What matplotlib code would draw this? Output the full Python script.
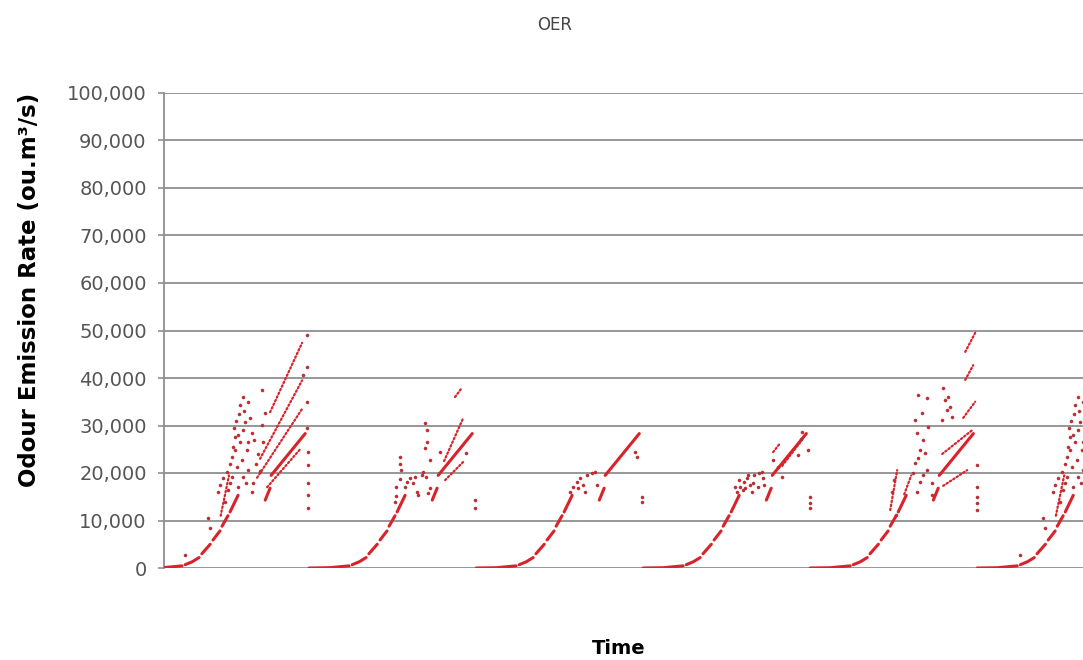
import matplotlib
matplotlib.use('Agg')
import matplotlib.pyplot as plt
from matplotlib.ticker import FuncFormatter, MultipleLocator

# time in hours, emission rate in thousands of ou.m3/s
day_starts = [0, 24, 48, 72, 96, 120]
day_pattern = ['early', 'medium', 'light', 'lightplus', 'late', 'early']

# diurnal base curve shared by every day, one list per logged stretch
base_dashes = [
    [(0.0, 0.0), (2.9, 0.06), (5.75, 0.45)],
    [(6.2, 0.7), (7.2, 1.3), (8.2, 2.2)],
    [(8.6, 3.0), (9.8, 5.0)],
    [(10.2, 5.9), (11.2, 7.8)],
    [(11.5, 8.8), (12.35, 11.0)],
    [(12.65, 11.8), (13.8, 15.3)],
    [(17.7, 14.3), (18.4, 16.8)],
    [(18.55, 19.5), (23.45, 28.3)],
]

early_runs = [
    [(11.3, 11.0), (12.5, 19.5)],
    [(18.4, 32.8), (23.0, 47.4)],
    [(16.96, 23.0), (23.0, 39.5)],
    [(16.53, 19.0), (23.0, 33.5)],
    [(17.97, 17.0), (22.71, 25.0)],
]
early_dots = [
    (6.18, 2.7), (9.49, 10.5), (9.77, 8.4), (10.92, 16.0), (11.21, 17.5), (11.64, 19.0),
    (12.22, 20.2), (12.65, 22.0), (12.93, 23.4), (13.37, 24.8), (13.37, 27.6), (13.80, 28.0),
    (14.08, 26.5), (14.52, 29.0), (14.80, 30.7), (14.08, 34.3), (14.52, 36.0), (15.23, 35.0),
    (12.93, 19.2), (13.65, 21.3), (14.37, 22.7), (15.09, 24.8), (15.23, 26.5), (15.81, 28.4),
    (14.52, 19.2), (15.23, 20.6), (15.95, 17.9), (15.81, 16.0), (17.25, 37.5), (17.25, 30.1),
    (17.39, 26.5), (17.68, 32.6), (11.93, 14.0), (12.36, 16.5), (12.65, 18.0), (13.08, 25.5),
    (13.51, 31.0), (13.94, 32.5), (14.66, 33.0), (13.22, 29.5), (15.52, 31.5), (16.10, 27.0),
    (16.38, 22.0), (16.67, 24.0), (16.96, 20.5), (13.80, 17.0), (14.95, 18.0),
    (23.14, 40.6), (23.71, 49.0), (23.86, 12.6), (23.86, 15.4), (23.86, 17.9), (23.86, 21.7),
    (23.79, 24.4), (23.72, 29.5), (23.65, 35.0), (23.72, 42.3),
]

medium_runs = [
    [(19.40, 22.5), (22.13, 31.5)],
    [(19.55, 18.5), (22.13, 22.3)],
    [(20.98, 36.0), (21.99, 38.0)],
]
medium_dots = [
    (12.36, 13.9), (12.50, 15.2), (12.50, 17.0), (13.08, 18.8), (13.22, 20.6), (13.08, 22.0),
    (13.08, 23.4), (13.80, 17.0), (14.08, 18.1), (14.52, 18.9), (14.95, 17.9), (15.52, 16.0),
    (15.67, 15.4), (15.23, 19.2), (16.24, 19.6), (16.38, 20.2), (16.82, 19.2), (16.67, 30.5),
    (16.96, 29.0), (16.67, 25.3), (16.96, 26.5), (17.39, 22.7), (18.83, 24.4), (17.39, 16.8),
    (17.10, 15.8), (22.56, 24.2), (23.86, 12.6), (23.86, 14.3),
]

light_runs = []
light_dots = [
    (13.51, 16.0), (13.94, 17.0), (14.52, 18.1), (14.95, 18.9), (14.66, 16.8), (15.38, 17.5),
    (15.67, 16.0), (15.95, 19.6), (16.67, 20.0), (17.10, 20.2), (17.39, 17.5), (22.85, 24.4),
    (23.14, 23.4), (23.86, 14.0), (23.86, 15.0),
]

lightplus_runs = [
    [(18.68, 24.4), (19.69, 26.3)],
    [(19.98, 21.5), (22.85, 27.0)],
]
lightplus_dots = [
    (13.51, 16.0), (13.94, 17.0), (14.52, 18.1), (14.95, 18.9), (14.66, 16.8), (15.38, 17.5),
    (15.67, 16.0), (15.95, 19.6), (16.67, 20.0), (17.10, 20.2), (17.39, 17.5), (13.22, 17.0),
    (13.80, 18.5), (14.37, 16.5), (15.09, 19.5), (15.81, 18.0), (16.53, 17.0), (17.25, 19.0),
    (18.68, 22.7), (19.40, 21.3), (19.98, 19.2), (22.85, 28.6), (22.71, 27.2), (22.28, 23.8),
    (23.71, 24.8), (24.0, 12.6), (24.0, 13.7), (24.0, 15.0),
]

late_runs = [
    [(11.5, 12.2), (12.5, 20.6)],
    [(13.51, 15.5), (14.52, 19.5)],
    [(18.97, 24.0), (23.43, 29.2)],
    [(19.11, 17.3), (22.56, 20.6)],
    [(21.99, 31.6), (23.71, 35.0)],
    [(22.28, 39.6), (23.43, 42.7)],
    [(22.28, 45.5), (23.71, 49.5)],
]
late_dots = [
    (11.78, 16.0), (12.07, 18.5), (12.36, 11.2), (15.52, 36.4), (16.82, 35.8), (15.09, 31.2),
    (16.10, 32.6), (15.38, 28.4), (16.24, 27.0), (15.81, 24.8), (16.53, 24.2), (15.09, 22.1),
    (15.52, 23.2), (16.96, 29.7), (14.80, 20.0), (15.81, 18.1), (15.38, 16.0), (16.24, 19.6),
    (16.82, 20.6), (17.53, 17.9), (17.53, 15.4), (19.11, 37.9), (19.83, 36.0), (19.40, 35.4),
    (20.12, 34.0), (19.69, 33.3), (20.41, 31.8), (18.97, 31.2), (24.0, 12.2), (24.0, 13.7),
    (24.0, 15.0), (24.0, 17.0), (24.0, 21.7),
]

patterns = {
    'early': (early_runs, early_dots),
    'medium': (medium_runs, medium_dots),
    'light': (light_runs, light_dots),
    'lightplus': (lightplus_runs, lightplus_dots),
    'late': (late_runs, late_dots),
}

red = '#d9232a'

fig = plt.figure(figsize=(10.83, 6.6), dpi=100)
ax = fig.add_axes([164 / 1083, 1 - 568 / 660, 1 - 164 / 1083, (568 - 93) / 660])

for t0, pat in zip(day_starts, day_pattern):
    for dash in base_dashes:
        ax.plot([t0 + h for h, v in dash], [v * 1000 for h, v in dash], color=red,
                lw=2.2, solid_capstyle='round', zorder=3)
    runs, dots = patterns[pat]
    for run in runs:
        ax.plot([t0 + h for h, v in run], [v * 1000 for h, v in run], color=red,
                lw=1.6, ls=(0, (0.7, 1.1)), dash_capstyle='round', zorder=3)
    ax.scatter([t0 + h for h, v in dots], [v * 1000 for h, v in dots], s=5,
               color=red, edgecolors='#8a3a3a', linewidths=0.3, zorder=3)

ax.set_xlim(3.16, 135.2)
ax.set_ylim(0, 100000)
ax.yaxis.set_major_locator(MultipleLocator(10000))
ax.yaxis.set_major_formatter(FuncFormatter(lambda v, p: '{:,.0f}'.format(v)))
ax.grid(axis='y', color='#8f8f8f', lw=1.3)
ax.set_axisbelow(True)
for side in ['top', 'right', 'bottom']:
    ax.spines[side].set_visible(False)
ax.spines['left'].set_color('#8f8f8f')
ax.spines['left'].set_linewidth(1.3)
ax.tick_params(axis='y', length=4.5, width=1.2, color='#8f8f8f', pad=8,
               labelsize=14, labelcolor='#555555')
ax.tick_params(axis='x', bottom=False, labelbottom=False)

fig.text(30 / 1083, 1 - 290 / 660, 'Odour Emission Rate (ou.m³/s)', rotation=90,
         ha='center', va='center', fontsize=16.5, fontweight='bold')
fig.text(555 / 1083, 1 - 25 / 660, 'OER', ha='center', va='center', fontsize=12, color='#444444')
fig.text(619 / 1083, 1 - 648 / 660, 'Time', ha='center', va='center', fontsize=14, fontweight='bold')

plt.savefig('out.png', dpi=100)
